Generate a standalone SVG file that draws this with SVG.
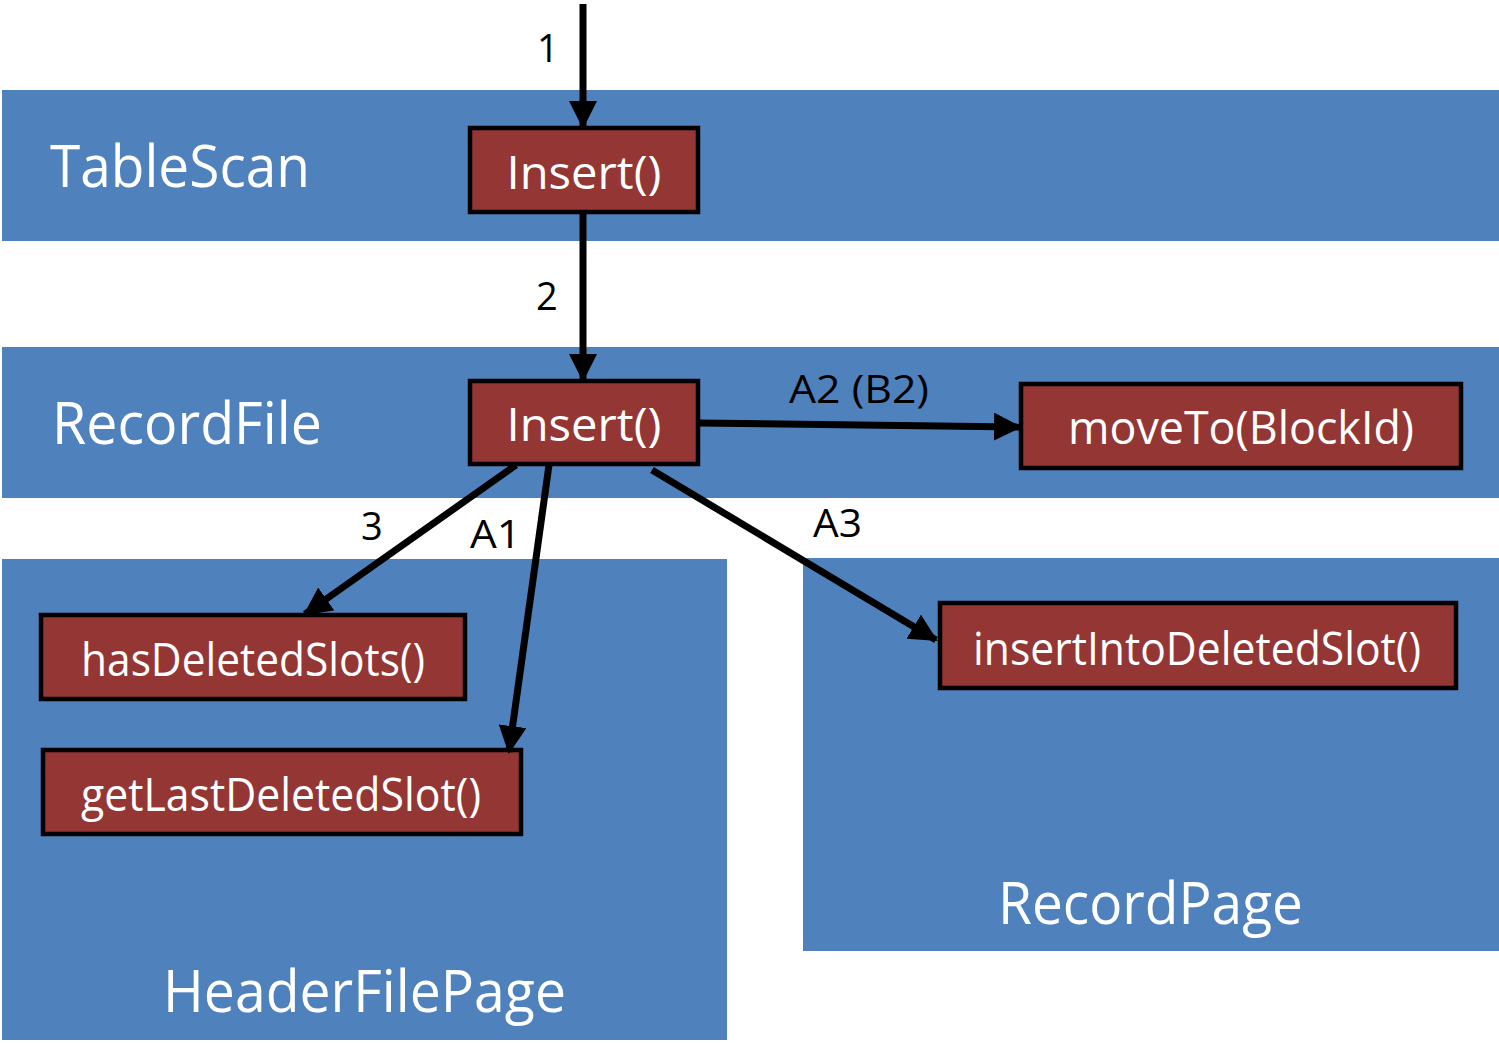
<svg xmlns="http://www.w3.org/2000/svg" width="1499" height="1043" viewBox="0 0 1499 1043">
  <style>
    .layer { fill: #4F81BD; }
    .layer-label { font-family: "Open Sans", "Noto Sans", sans-serif; font-size: 58px; fill: #FFFFFF; }
    .method { fill: #943634; stroke: #000000; stroke-width: 4.5; }
    .method-label { font-family: "Open Sans", "Noto Sans", sans-serif; font-size: 46px; fill: #FFFFFF; text-anchor: middle; }
    .step { font-family: "Open Sans", "Noto Sans", sans-serif; font-size: 38px; fill: #000000; }
    .call { stroke: #000000; stroke-width: 7; fill: none; marker-end: url(#head); }
  </style>
  <defs>
    <marker id="head" markerUnits="userSpaceOnUse" markerWidth="28" markerHeight="28" viewBox="0 0 28 28" refX="26" refY="14" orient="auto">
      <path d="M0,0 L28,14 L0,28 Z" fill="#000000"/>
    </marker>
  </defs>

  <rect width="1499" height="1043" fill="#FFFFFF"/>

  <!-- class layers -->
  <g id="layer-tablescan">
    <rect class="layer" x="2" y="90" width="1497" height="151"/>
    <text class="layer-label" x="50" y="187" textLength="260" lengthAdjust="spacingAndGlyphs">TableScan</text>
  </g>
  <g id="layer-recordfile">
    <rect class="layer" x="2" y="347" width="1497" height="151"/>
    <text class="layer-label" x="52" y="444" textLength="270" lengthAdjust="spacingAndGlyphs">RecordFile</text>
  </g>
  <g id="layer-headerfilepage">
    <rect class="layer" x="2" y="559" width="725" height="481"/>
    <text class="layer-label" x="163" y="1012" textLength="403" lengthAdjust="spacingAndGlyphs">HeaderFilePage</text>
  </g>
  <g id="layer-recordpage">
    <rect class="layer" x="803" y="558" width="696" height="393"/>
    <text class="layer-label" x="998" y="924" textLength="305" lengthAdjust="spacingAndGlyphs">RecordPage</text>
  </g>

  <!-- method nodes -->
  <g id="tablescan-insert">
    <rect class="method" x="470" y="128" width="228" height="84"/>
    <text class="method-label" x="584" y="189" textLength="155" lengthAdjust="spacingAndGlyphs">Insert()</text>
  </g>
  <g id="recordfile-insert">
    <rect class="method" x="470" y="381" width="228" height="83"/>
    <text class="method-label" x="584" y="441" textLength="155" lengthAdjust="spacingAndGlyphs">Insert()</text>
  </g>
  <g id="moveto">
    <rect class="method" x="1021" y="384" width="440" height="84"/>
    <text class="method-label" x="1241" y="444" textLength="346" lengthAdjust="spacingAndGlyphs">moveTo(BlockId)</text>
  </g>
  <g id="hasdeletedslots">
    <rect class="method" x="41" y="615" width="424" height="84"/>
    <text class="method-label" x="253" y="676" textLength="344" lengthAdjust="spacingAndGlyphs">hasDeletedSlots()</text>
  </g>
  <g id="getlastdeletedslot">
    <rect class="method" x="43" y="750" width="478" height="84"/>
    <text class="method-label" x="281" y="811" textLength="400" lengthAdjust="spacingAndGlyphs">getLastDeletedSlot()</text>
  </g>
  <g id="insertintodeletedslot">
    <rect class="method" x="940" y="603" width="516" height="85"/>
    <text class="method-label" x="1197" y="665" textLength="448" lengthAdjust="spacingAndGlyphs">insertIntoDeletedSlot()</text>
  </g>

  <!-- calls between methods -->
  <g id="connectors">
    <line class="call" x1="583" y1="4" x2="583" y2="127"/>
    <line class="call" x1="583" y1="212" x2="583" y2="380"/>
    <line class="call" x1="698" y1="423" x2="1020" y2="427"/>
    <line class="call" x1="516" y1="465" x2="305" y2="614"/>
    <line class="call" x1="549" y1="465" x2="509" y2="752"/>
    <line class="call" x1="652" y1="470" x2="936" y2="640"/>
    <text class="step" x="537" y="62">1</text>
    <text class="step" x="536" y="310">2</text>
    <text class="step" x="789" y="403" textLength="140" lengthAdjust="spacingAndGlyphs">A2 (B2)</text>
    <text class="step" x="361" y="540">3</text>
    <text class="step" x="470" y="548" textLength="51" lengthAdjust="spacingAndGlyphs">A1</text>
    <text class="step" x="813" y="537" textLength="49" lengthAdjust="spacingAndGlyphs">A3</text>
  </g>
</svg>
